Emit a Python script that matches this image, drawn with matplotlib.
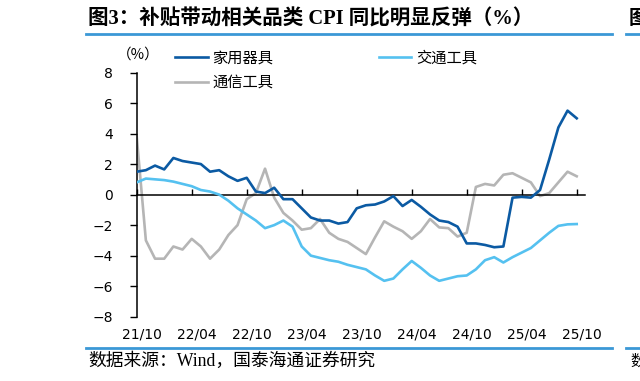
import matplotlib
matplotlib.use("Agg")
import matplotlib.pyplot as plt
from matplotlib.lines import Line2D
from matplotlib.transforms import ScaledTranslation

# ---------------- data ----------------
months = ["21/10", "21/11", "21/12", "22/01", "22/02", "22/03", "22/04", "22/05", "22/06",
          "22/07", "22/08", "22/09", "22/10", "22/11", "22/12", "23/01", "23/02", "23/03",
          "23/04", "23/05", "23/06", "23/07", "23/08", "23/09", "23/10", "23/11", "23/12",
          "24/01", "24/02", "24/03", "24/04", "24/05", "24/06", "24/07", "24/08", "24/09",
          "24/10", "24/11", "24/12", "25/01", "25/02", "25/03", "25/04", "25/05", "25/06",
          "25/07", "25/08", "25/09", "25/10"]

household = [1.5, 1.6, 1.9, 1.65, 2.4, 2.2, 2.1, 2.0, 1.5, 1.6, 1.2, 0.9, 1.1, 0.2, 0.1,
             0.45, -0.3, -0.3, -0.9, -1.5, -1.7, -1.7, -1.9, -1.8, -0.9, -0.7, -0.65, -0.45,
             -0.1, -0.75, -0.35, -0.8, -1.3, -1.7, -1.8, -2.1, -3.2, -3.2, -3.3, -3.45, -3.4,
             -0.2, -0.15, -0.2, 0.3, 2.3, 4.4, 5.5, 5.0]

transport = [0.8, 1.05, 1.0, 0.95, 0.85, 0.7, 0.55, 0.3, 0.2, 0.0, -0.4, -0.9, -1.3, -1.7,
             -2.2, -2.0, -1.7, -2.1, -3.4, -4.0, -4.15, -4.3, -4.4, -4.6, -4.75, -4.9, -5.3,
             -5.65, -5.5, -4.9, -4.35, -4.8, -5.3, -5.65, -5.5, -5.35, -5.3, -4.9, -4.3, -4.1,
             -4.45, -4.1, -3.8, -3.5, -3.0, -2.5, -2.05, -1.95, -1.93]

telecom = [3.8, -3.0, -4.2, -4.2, -3.4, -3.6, -2.9, -3.4, -4.2, -3.6, -2.65, -2.0, -0.3, 0.1,
           1.7, -0.2, -1.2, -1.7, -2.3, -2.2, -1.6, -2.5, -2.9, -3.1, -3.5, -3.9, -2.8, -1.75,
           -2.1, -2.4, -2.9, -2.4, -1.6, -2.15, -2.2, -2.75, -2.5, 0.5, 0.7, 0.6, 1.3, 1.4,
           1.1, 0.8, -0.1, 0.1, 0.8, 1.5, 1.2]

series_names = ["家用器具", "交通工具", "通信工具"]
tick_labels = ["21/10", "22/04", "22/10", "23/04", "23/10", "24/04", "24/10", "25/04", "25/10"]
y_ticks = [-8, -6, -4, -2, 0, 2, 4, 6, 8]

title = "图3：补贴带动相关品类 CPI 同比明显反弹（%）"
source = "数据来源：Wind，国泰海通证券研究"

# ---------------- style ----------------
C_DARK = "#0b5aa3"
C_LIGHT = "#55c1f0"
C_GREY = "#b5b5b5"
C_RULE = "#3b98d6"
CJK = ["Noto Sans CJK SC", "DejaVu Sans"]
SERIF_CJK = ["Liberation Serif", "Noto Sans CJK SC"]

plt.rcParams["font.family"] = ["DejaVu Sans", "Noto Sans CJK SC"]
plt.rcParams["axes.unicode_minus"] = True

fig = plt.figure(figsize=(6.4, 3.81), dpi=100)
ax = fig.add_axes([0.2136, 0.1688, 0.914 - 0.2136, 0.8097 - 0.1688])

x = list(range(len(months)))
lw = 1.9
l1, = ax.plot(x, household, color=C_DARK, lw=lw, solid_joinstyle="round", zorder=4)
l2, = ax.plot(x, transport, color=C_LIGHT, lw=lw, solid_joinstyle="round", zorder=3)
l3, = ax.plot(x, telecom, color=C_GREY, lw=lw, solid_joinstyle="round", zorder=2)

ax.set_ylim(-8, 8)
ax.set_xlim(0, 48.9)
ax.set_yticks(y_ticks)
ax.set_yticklabels([str(v) if v >= 0 else "\u2212" + str(-v) for v in y_ticks])

for s in ["top", "right"]:
    ax.spines[s].set_visible(False)
ax.spines["left"].set_linewidth(1.1)
ax.spines["bottom"].set_position(("data", 0))
ax.spines["bottom"].set_linewidth(1.1)
ax.spines["left"].set_bounds(-8, 8)

tick_pos = [months.index(t) for t in tick_labels]
ax.set_xticks(tick_pos)
ax.tick_params(axis="x", direction="in", length=4, width=1.0, labelbottom=False)
ax.tick_params(axis="y", direction="out", length=5, width=1.0, pad=12, labelsize=10)

sec = ax.secondary_xaxis("bottom")
sec.set_xticks(tick_pos)
sec.set_xticklabels(tick_labels)
sec.tick_params(length=0, pad=8, labelsize=10)
sec.spines["bottom"].set_visible(False)
for lab in sec.get_xticklabels():
    lab.set_transform(lab.get_transform() + ScaledTranslation(5 / 100, 0, fig.dpi_scale_trans))

# unit label
fig.text(138 / 640, 1 - 55 / 381, "（%）", ha="center", va="center", fontsize=10.5, family=CJK)

# legend
leg = ax.legend([l1, l3, l2], [series_names[0], series_names[2], series_names[1]],
                ncol=2, loc="upper left", bbox_to_anchor=(38 / 448, 1.095),
                frameon=False, prop={"family": CJK, "size": 11},
                handlelength=2.15, handletextpad=0.3, columnspacing=6.9,
                labelspacing=0.5, borderaxespad=0, borderpad=0)

# title, rules, source
fig.text(88 / 640, 1 - 19 / 381, title, ha="left", va="center", fontsize=14.8,
         fontweight="bold", family=SERIF_CJK)
fig.add_artist(Line2D([86 / 640, 612 / 640], [1 - 34 / 381] * 2, color=C_RULE, lw=2.0))
fig.add_artist(Line2D([86 / 640, 612 / 640], [1 - 348 / 381] * 2, color=C_RULE, lw=2.0))
fig.text(88 / 640, 1 - 361 / 381, source, ha="left", va="center", fontsize=12.8, family=SERIF_CJK)

# neighbouring chart fragments at the right edge
fig.add_artist(Line2D([626 / 640, 1.0], [1 - 34 / 381] * 2, color=C_RULE, lw=2.0))
fig.add_artist(Line2D([626 / 640, 1.0], [1 - 348 / 381] * 2, color=C_RULE, lw=2.0))
fig.text(629 / 640, 1 - 19 / 381, "图", ha="left", va="center", fontsize=14,
         fontweight="bold", family=CJK)
fig.text(630 / 640, 1 - 361 / 381, "数", ha="left", va="center", fontsize=11, family=CJK)

fig.savefig("out.png", dpi=100)
